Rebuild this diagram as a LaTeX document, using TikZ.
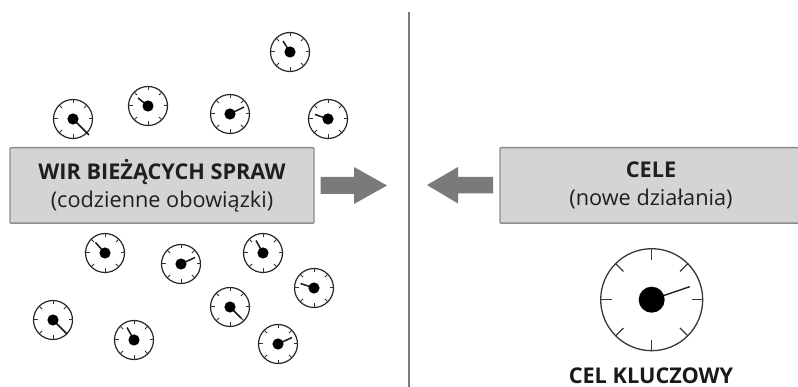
\documentclass[tikz,border=0pt]{standalone}
\usepackage{fontspec}
\setmainfont{Open Sans}
\tikzset{
  x=1pt,y=-1pt,
  boxstyle/.style={draw=black!45,line width=1.3pt,fill=black!17,rounded corners=1pt,inner sep=0pt,align=center,text=black!88,font=\fontsize{21.7}{28}\selectfont,minimum height=75.5,anchor=north},
  blockarrow/.style={fill=black!52,draw=none},
  divider/.style={draw=black!52,line width=1.9pt},
  clockrim/.style={draw=black!85,line width=1.2pt,fill=white},
  clocktick/.style={draw=black!80,line width=1pt},
  clockhand/.style={draw=black!90,line width=1.5pt},
  bigrim/.style={draw=black!78,line width=1.3pt,fill=white},
  bigtick/.style={draw=black!78,line width=1.2pt},
  bighand/.style={draw=black!88,line width=1.4pt},
  pics/clock/.style n args={2}{code={
    \draw[clockrim] (0,0) circle[radius=19.5];
    \foreach \a in {0,45,...,315}{\draw[clocktick] (\a:19.5) -- (\a:15.5);}
    \draw[clockhand] (0,0) -- (#1,#2);
    \fill[black] (0,0) circle[radius=5.6];
  }},
}
\begin{document}
\begin{tikzpicture}
\useasboundingbox (0,0) rectangle (798,387);
\fill[white] (0,0) rectangle (798,387);
\coordinate (dtop) at (409,12);
\coordinate (dbot) at (409,387);
\draw[divider] (dtop) -- (dbot);
% boxes
\node[boxstyle,minimum width=304] (wir) at (162,147) {\textbf{WIR BIEŻĄCYCH SPRAW}\\(codzienne obowiązki)};
\node[boxstyle,minimum width=302] (cele) at (651,147) {\textbf{CELE}\\(nowe działania)};
\node[anchor=base,inner sep=0pt,text=black!90,font=\fontsize{21.7}{24}\selectfont\bfseries] (cel) at (651,383.5) {CEL KLUCZOWY};
% block arrows
\fill[blockarrow] (320.5,177) -- (354,177) -- (354,167) -- (387,185.5) -- (354,204) -- (354,194) -- (320.5,194) -- cycle;
\fill[blockarrow] (493,177) -- (458,177) -- (458,167) -- (427,185) -- (458,203.5) -- (458,193.5) -- (493,193.5) -- cycle;
% small clocks
\pic at (290,52) {clock={-7}{-11}};
\pic at (73,119) {clock={16}{16}};
\pic at (148,106) {clock={-10}{-8}};
\pic at (230,114) {clock={14}{-7}};
\pic at (328,119) {clock={-13}{-4.5}};
\pic at (105,253) {clock={-9.5}{-10.5}};
\pic at (181,264) {clock={14}{-6.5}};
\pic at (263,253) {clock={-7}{-12.5}};
\pic at (314,288) {clock={-13.5}{-4.5}};
\pic at (230,307) {clock={11}{11}};
\pic at (53,320) {clock={14}{14}};
\pic at (134,340) {clock={-7}{-12.5}};
\pic at (278,344) {clock={14}{-6.5}};
% big clock
\draw[bigrim] (651.7,299.7) circle[radius=51];
\foreach \a in {0,45,...,315}{\draw[bigtick] (651.7,299.7) ++(\a:51) -- ++(\a:-11);}
\draw[bighand] (651.7,299.7) -- ++(38,-13);
\fill[black] (651.7,299.7) circle[radius=13];
\end{tikzpicture}
\end{document}
